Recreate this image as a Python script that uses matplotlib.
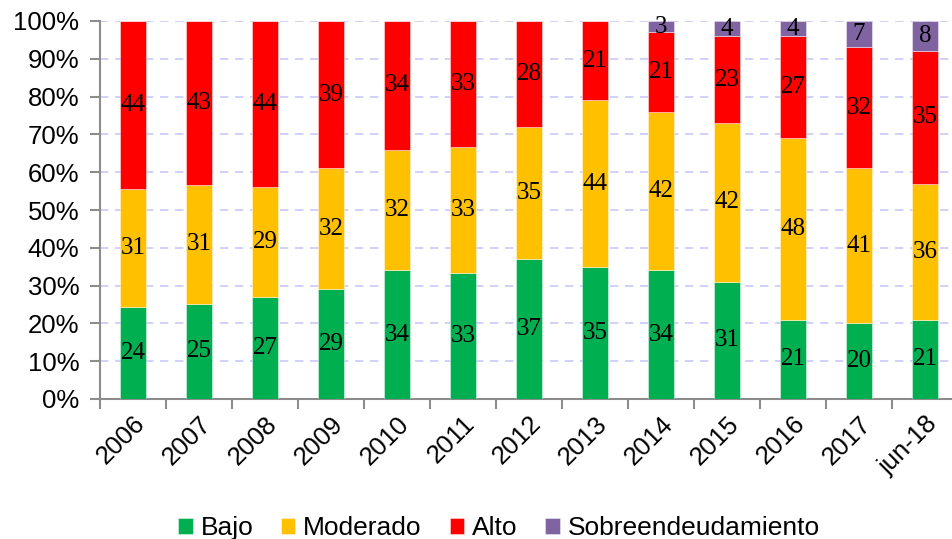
import matplotlib
matplotlib.use("Agg")
import matplotlib.pyplot as plt
import numpy as np

# Distribución por nivel de endeudamiento (% del total)
categorias = ["2006", "2007", "2008", "2009", "2010", "2011", "2012",
              "2013", "2014", "2015", "2016", "2017", "jun-18"]
bajo = [24, 25, 27, 29, 34, 33, 37, 35, 34, 31, 21, 20, 21]
moderado = [31, 31, 29, 32, 32, 33, 35, 44, 42, 42, 48, 41, 36]
alto = [44, 43, 44, 39, 34, 33, 28, 21, 21, 23, 27, 32, 35]
sobreendeudamiento = [0, 0, 0, 0, 0, 0, 0, 0, 3, 4, 4, 7, 8]

series = [("Bajo", bajo, "#00B050"),
          ("Moderado", moderado, "#FFC000"),
          ("Alto", alto, "#FF0000"),
          ("Sobreendeudamiento", sobreendeudamiento, "#8064A2")]

W, H = 952, 539
fig = plt.figure(figsize=(W / 100, H / 100), dpi=100)
ax = fig.add_axes([100 / W, (H - 399) / H, 858 / W, 378 / H])

x = np.arange(len(categorias))
totales = np.sum([s[1] for s in series], axis=0).astype(float)
base = np.zeros(len(categorias))
for nombre, valores, color in series:
    v = np.array(valores, dtype=float)
    frac = v / totales
    ax.bar(x, frac, width=0.4, bottom=base, color=color, label=nombre,
           edgecolor=(1, 1, 1, 0.5), linewidth=0.6, zorder=3)
    for xi, b, f, val in zip(x, base, frac, valores):
        if val > 0:
            ax.text(xi, b + f / 2, f"{val}", ha="center", va="center",
                    fontsize=18, family="Liberation Serif", color="black",
                    zorder=4)
    base += frac

ax.set_xlim(-0.5, len(categorias) - 0.5)
ax.set_ylim(0, 1)
ax.set_yticks(np.arange(0, 1.01, 0.1))
ax.set_yticklabels([f"{int(round(t * 100))}%" for t in np.arange(0, 1.01, 0.1)],
                   fontsize=18.5, family="Liberation Sans")
ax.yaxis.grid(True, linestyle=(0, (5, 4)), color="#C8C8F8", linewidth=1.2, zorder=0)

# category ticks on boundaries, labels centred under bars
ax.set_xticks(np.arange(-0.5, len(categorias), 1.0))
ax.set_xticklabels([])
ax.set_xticks(x, minor=True)
ax.set_xticklabels(categorias, minor=True, rotation=45, ha="right",
                   rotation_mode="anchor", fontsize=18.5, family="Liberation Sans")
ax.tick_params(axis="x", which="minor", length=0, pad=9)
ax.tick_params(axis="x", which="major", length=7, width=1.5, color="#8C8C8C",
               direction="out")
ax.tick_params(axis="y", length=7, width=1.5, color="#8C8C8C", pad=8)

for side in ("top", "right"):
    ax.spines[side].set_visible(False)
for side in ("left", "bottom"):
    ax.spines[side].set_color("#8C8C8C")
    ax.spines[side].set_linewidth(1.5)

leg = fig.legend(loc="center", bbox_to_anchor=(0.524, 0.02), ncol=4,
                 frameon=False, handlelength=0.55, handleheight=0.55,
                 handletextpad=0.3, columnspacing=1.05,
                 prop={"family": "Liberation Sans", "size": 19})

fig.savefig("out.png", dpi=100)
